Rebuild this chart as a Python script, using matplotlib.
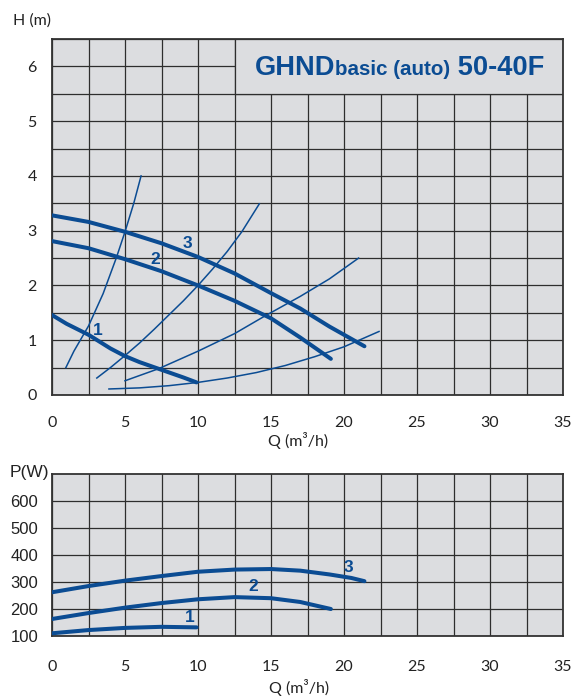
import matplotlib.pyplot as plt
from matplotlib.patches import Rectangle
from matplotlib.ticker import MultipleLocator

# pump curves H(Q), speed 1..3
q3 = [0, 2.5, 5, 7.5, 10, 12.5, 15, 17, 19, 21.4]
h3 = [3.28, 3.16, 2.98, 2.77, 2.52, 2.22, 1.86, 1.58, 1.25, 0.89]
q2 = [0, 2.5, 5, 7.5, 10, 12.5, 15, 17, 19.1]
h2 = [2.81, 2.68, 2.48, 2.26, 2.0, 1.72, 1.40, 1.05, 0.66]
q1 = [0, 1, 2.5, 4, 5, 6, 7.5, 9, 9.9]
h1 = [1.46, 1.30, 1.10, 0.85, 0.71, 0.60, 0.46, 0.32, 0.23]

# system curves (thin)
sys_a_q = [0.95, 1.5, 2.5, 3.5, 4.4, 5.0, 5.6, 6.1]
sys_a_h = [0.5, 0.8, 1.26, 1.85, 2.5, 2.98, 3.5, 4.0]
sys_b_q = [3.07, 4, 5, 6, 7, 8, 9, 10, 11, 12, 13, 14.2]
sys_b_h = [0.31, 0.50, 0.72, 0.95, 1.20, 1.46, 1.72, 2.0, 2.30, 2.62, 2.98, 3.49]
sys_c_q = [5.0, 7.3, 10, 12.5, 14.5, 17, 19, 21.0]
sys_c_h = [0.26, 0.48, 0.80, 1.12, 1.43, 1.80, 2.12, 2.5]
sys_d_q = [3.9, 6, 8, 10, 12, 14, 16, 18, 20, 22.4]
sys_d_h = [0.11, 0.13, 0.17, 0.23, 0.31, 0.41, 0.54, 0.70, 0.88, 1.16]

# power curves P(Q)
pq3 = [0, 2.5, 5, 7.5, 10, 12.5, 15, 17, 19, 20.5, 21.4]
p3 = [262, 285, 305, 322, 338, 346, 348, 342, 328, 315, 303]
pq2 = [0, 2.5, 5, 7.5, 10, 12.5, 15, 17, 19.1]
p2 = [163, 185, 205, 222, 236, 244, 240, 226, 200]
pq1 = [0, 2.5, 5, 7.5, 9.9]
p1 = [110, 122, 130, 134, 132]

x_ticks = [0, 5, 10, 15, 20, 25, 30, 35]
h_ticks = [0, 1, 2, 3, 4, 5, 6]
p_ticks = [100, 200, 300, 400, 500, 600]

BLUE = '#0b4c93'
BG = '#dcdde0'
GRID = '#2e2e2e'
W, H = 576, 698


def style_axes(ax, xpad, ypad):
    ax.set_facecolor(BG)
    ax.set_axisbelow(True)
    ax.xaxis.set_minor_locator(MultipleLocator(2.5))
    ax.grid(True, which='both', color=GRID, linewidth=0.9)
    ax.tick_params(which='both', length=0)
    ax.tick_params(axis='x', pad=xpad)
    ax.tick_params(axis='y', pad=ypad)
    for s in ax.spines.values():
        s.set_color('#333333')
        s.set_linewidth(1.3)


fig = plt.figure(figsize=(W / 100, H / 100), dpi=100)

# top chart
ax = fig.add_axes([52 / W, 1 - 395 / H, 511 / W, 356 / H])
style_axes(ax, 15, 11)
ax.set_xlim(0, 35)
ax.set_ylim(0, 6.5)
ax.set_xticks(x_ticks)
ax.set_yticks(h_ticks)
ax.yaxis.set_minor_locator(MultipleLocator(0.5))
for lab in ax.get_xticklabels() + ax.get_yticklabels():
    lab.set_fontfamily('Lato')
    lab.set_fontsize(11.5)
    lab.set_color('#222222')

ax.add_patch(Rectangle((12.5, 5.5), 22.5, 1.0, facecolor=BG,
                       edgecolor=GRID, linewidth=0.9, zorder=1))

for qq, hh in [(sys_a_q, sys_a_h), (sys_b_q, sys_b_h), (sys_c_q, sys_c_h), (sys_d_q, sys_d_h)]:
    ax.plot(qq, hh, color=BLUE, linewidth=1.1, zorder=3)
for qq, hh in [(q1, h1), (q2, h2), (q3, h3)]:
    ax.plot(qq, hh, color=BLUE, linewidth=2.9, solid_capstyle='round', zorder=4)

for txt, x, y in [('1', 3.1, 1.17), ('2', 7.1, 2.48), ('3', 9.3, 2.77)]:
    ax.text(x, y, txt, color=BLUE, fontsize=12.5, fontweight='bold',
            fontfamily='Liberation Sans', ha='center', va='center', zorder=5)

# bottom chart
bx = fig.add_axes([52 / W, 1 - 636 / H, 511 / W, 162 / H])
style_axes(bx, 17, 10)
bx.set_xlim(0, 35)
bx.set_ylim(100, 700)
bx.set_xticks(x_ticks)
bx.set_yticks(p_ticks)
for lab in bx.get_xticklabels():
    lab.set_fontfamily('Lato')
    lab.set_fontsize(11.5)
    lab.set_color('#222222')
for lab in bx.get_yticklabels():
    lab.set_fontfamily('Liberation Sans')
    lab.set_fontsize(12)
    lab.set_color('#222222')

for qq, pp in [(pq1, p1), (pq2, p2), (pq3, p3)]:
    bx.plot(qq, pp, color=BLUE, linewidth=2.9, solid_capstyle='round', zorder=4)
for txt, x, y in [('1', 9.45, 168), ('2', 13.8, 282), ('3', 20.3, 352)]:
    bx.text(x, y, txt, color=BLUE, fontsize=12.5, fontweight='bold',
            fontfamily='Liberation Sans', ha='center', va='center', zorder=5)

# axis labels
fig.text(13 / W, 1 - 21 / H, 'H (m)', fontfamily='Lato', fontsize=11.5,
         color='#222222', ha='left', va='center')
fig.text(298 / W, 1 - 441 / H, 'Q (m³/h)', fontfamily='Lato', fontsize=11.5,
         color='#222222', ha='center', va='center')
fig.text(299 / W, 1 - 687 / H, 'Q (m³/h)', fontfamily='Lato', fontsize=11.5,
         color='#222222', ha='center', va='center')
fig.text(10 / W, 1 - 472 / H, 'P(W)', fontfamily='Liberation Sans', fontsize=12.5,
         color='#222222', ha='left', va='center')

# title made of three pieces
parts = [('GHND', 19.6), ('basic (auto)', 14.8), (' 50-40F', 19.6)]
fig.canvas.draw()
renderer = fig.canvas.get_renderer()
x = 255
for txt, size in parts:
    t = fig.text(x / W, 1 - 75 / H, txt, fontfamily='Liberation Sans',
                 fontweight='bold', fontsize=size, color=BLUE,
                 ha='left', va='baseline')
    x += t.get_window_extent(renderer).width

fig.savefig('out.png', dpi=100)
